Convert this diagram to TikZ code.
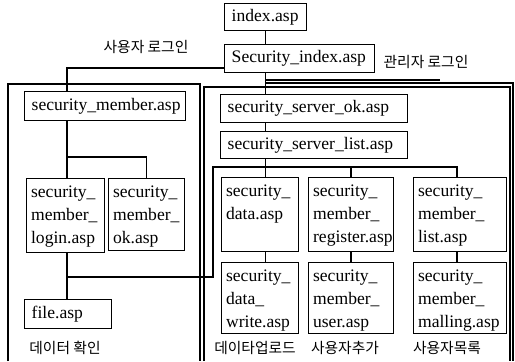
\documentclass[tikz,border=0pt]{standalone}
\usepackage{fontspec}
\setmainfont{Liberation Serif}
\newfontfamily\kr{Noto Sans CJK KR}

\begin{document}
\begin{tikzpicture}[x=0.2mm,y=-0.2mm,
  page/.style 2 args={draw,line width=0.8pt,anchor=north west,align=left,
    inner xsep=4pt,inner ysep=0pt,text width=#1*0.2mm-8pt,minimum height=#2*0.2mm,
    font=\fontsize{10}{13.1}\selectfont},
  tallpage/.style 2 args={draw,line width=0.8pt,anchor=north west,align=left,
    inner xsep=2.5pt,inner ysep=2pt,text width=#1*0.2mm-5pt,
    text height=8.8pt,text depth=#2*0.2mm-8.8pt-4pt,
    font=\fontsize{10}{13.1}\selectfont},
  link/.style={line width=0.6pt},
  frame/.style={line width=1.1pt},
  note/.style={font=\kr\fontsize{8.4}{10}\selectfont,inner sep=1pt}]
\useasboundingbox (0,0) rectangle (515,361);

\draw[frame] (8,361) -- (8,84) -- (200,84) -- (200,361);
\draw[frame] (204,361) -- (204,87) -- (510,87) -- (510,361);

\node[page={82}{27}] (idx) at (224,3) {index.asp};
\node[page={150}{28}] (sidx) at (224,44) {Security\_index.asp};

\node[page={161}{29}] (member) at (24,91) {security\_member.asp};
\node[tallpage={78}{74}] (login) at (26,178) {security\_\\member\_\\login.asp};
\node[tallpage={76}{72}] (ok) at (108,178) {security\_\\member\_\\ok.asp};
\node[page={87}{29}] (file) at (24,299) {file.asp};

\node[page={187}{28}] (srvok) at (220,94) {security\_server\_ok.asp};
\node[page={187}{27}] (srvlist) at (220,131) {security\_server\_list.asp};
\node[tallpage={77}{74}] (data) at (221,177) {security\_\\data.asp};
\node[tallpage={85}{74}] (register) at (308,177) {security\_\\member\_\\register.asp};
\node[tallpage={93}{74}] (list) at (413,177) {security\_\\member\_\\list.asp};
\node[tallpage={77}{71}] (write) at (221,262) {security\_\\data\_\\write.asp};
\node[tallpage={85}{71}] (user) at (308,262) {security\_\\member\_\\user.asp};
\node[tallpage={93}{71}] (malling) at (413,262) {security\_\\member\_\\malling.asp};

\coordinate (ulog) at (67,68);
\coordinate (alog) at (440,80);
\coordinate (rim) at (513,83);
\coordinate (mbus) at (0,157);
\coordinate (sbus) at (213,167);
\coordinate (fbus) at (213,277);
\coordinate (regx) at (351,0);
\coordinate (lstx) at (457,0);

\draw[link] (idx.south) -- (idx.south |- sidx.north);
\draw[link] (sidx.west |- ulog) -- (ulog) -- (ulog |- member.north);
\node[note] (ulabel) at (146,47) {사용자 로그인};
\draw[link] (idx.south |- sidx.south) -- (idx.south |- srvok.north);
\draw[link] (alog -| idx.south) -- (alog);
\draw[frame] (rim -| idx.south) -- (rim) -- (rim |- 0,361);
\node[note] (alabel) at (426,62) {관리자 로그인};

\draw[link] (member.south -| ulog) -- (mbus -| ulog) -- (mbus -| ok.north) -- (ok.north);
\draw[link] (mbus -| ulog) -- (ulog |- login.north);
\draw[link] (ulog |- login.south) -- (ulog |- file.north);

\draw[link] (idx.south |- srvok.south) -- (idx.south |- srvlist.north);
\draw[link] (idx.south |- srvlist.south) -- (idx.south |- data.north);
\draw[link] (fbus -| ulog) -- (fbus) -- (sbus) -- (sbus -| lstx) -- (lstx |- list.north);
\draw[link] (sbus -| regx) -- (regx |- register.north);
\draw[link] (idx.south |- data.south) -- (idx.south |- write.north);
\draw[link] (regx |- register.south) -- (regx |- user.north);
\draw[link] (lstx |- list.south) -- (lstx |- malling.north);

\node[note] (chk) at (65,348) {데이터 확인};
\node[note] (upl) at (255,348) {데이타업로드};
\node[note] (add) at (345,348) {사용자추가};
\node[note] (lst) at (447,348) {사용자목록};
\end{tikzpicture}
\end{document}
